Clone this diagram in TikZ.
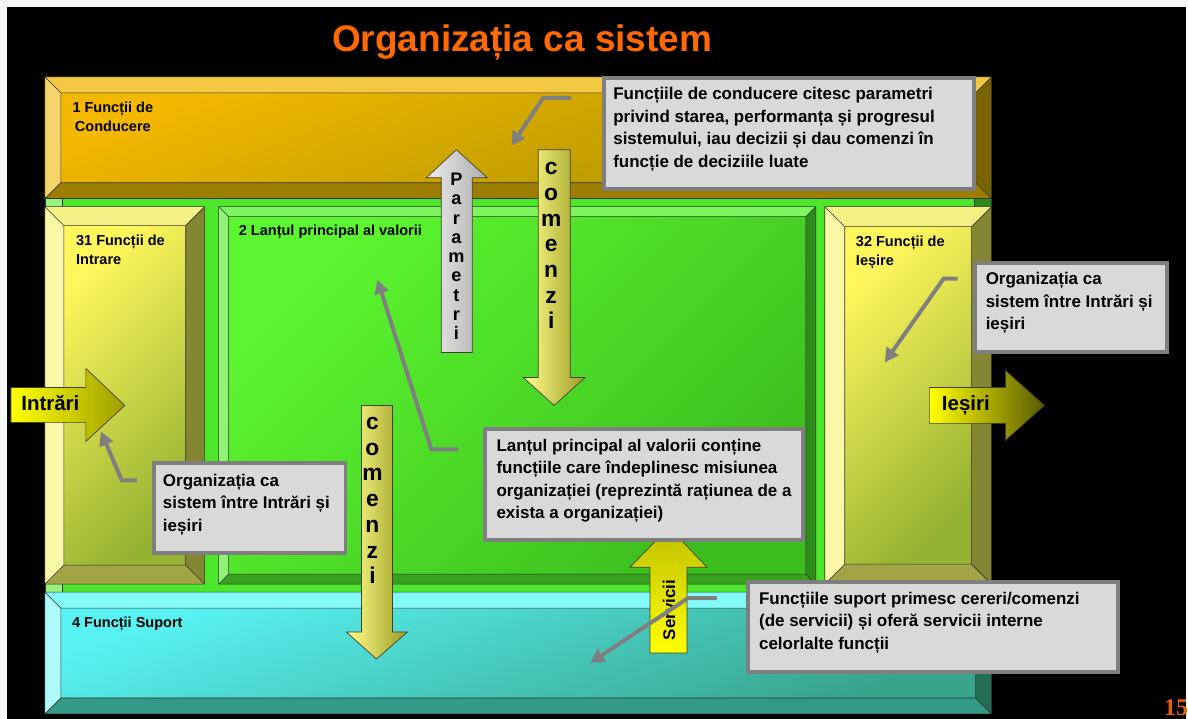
\documentclass[tikz,border=0pt]{standalone}
\usepackage{fontspec}
\setmainfont{Liberation Sans}
\newfontfamily\numfont{Liberation Serif}
\usetikzlibrary{arrows.meta}

\definecolor{titleOrange}{HTML}{FF6A00}
\definecolor{pageOrange}{HTML}{E86000}
\definecolor{calloutFill}{HTML}{D9D9D9}
\definecolor{calloutRim}{HTML}{7F7F7F}
% management band
\definecolor{goldFa}{HTML}{F4B800}
\definecolor{goldFb}{HTML}{A89200}
\definecolor{goldT}{HTML}{F4C842}
\definecolor{goldL}{HTML}{F6D46C}
\definecolor{goldB}{HTML}{9C7E00}
\definecolor{goldR}{HTML}{776400}
% green band and value chain
\definecolor{bandGreen}{HTML}{4CE62A}
\definecolor{bandGreenL}{HTML}{98F27E}
\definecolor{bandGreenR}{HTML}{2C8A1A}
\definecolor{grnFa}{HTML}{5CF630}
\definecolor{grnFb}{HTML}{3CBE1E}
\definecolor{grnT}{HTML}{7EF65E}
\definecolor{grnL}{HTML}{90F276}
\definecolor{grnB}{HTML}{38A21E}
\definecolor{grnR}{HTML}{2E8C1A}
% input / output boxes
\definecolor{yelFa}{HTML}{FFF65C}
\definecolor{yelFb}{HTML}{96B232}
\definecolor{yelT}{HTML}{F4F084}
\definecolor{yelL}{HTML}{FAF7A6}
\definecolor{yelB}{HTML}{A2A446}
\definecolor{yelR}{HTML}{848632}
% support band
\definecolor{aquaFa}{HTML}{58F2F2}
\definecolor{aquaFb}{HTML}{38A48C}
\definecolor{aquaT}{HTML}{82FAFA}
\definecolor{aquaL}{HTML}{AEFAFA}
\definecolor{aquaB}{HTML}{339A88}
\definecolor{aquaR}{HTML}{246E58}
% command arrows
\definecolor{cmdLight}{HTML}{FFFF8C}
\definecolor{cmdDark}{HTML}{9C9C22}

\begin{document}
\begin{tikzpicture}
	[x=0.03cm, y=-0.03cm, >={Triangle[length=12pt,width=12pt]},
	 bevelline/.style={draw=black!80, line width=0.5pt},
	 boxlabel/.style={font=\bfseries\fontsize{12.4}{16.2}\selectfont, inner sep=0pt},
	 callout/.style={draw=calloutRim, fill=calloutFill, line width=3.4pt},
	 callouttext/.style={font=\bfseries\fontsize{14.5}{19.2}\selectfont, inner sep=0pt, align=left, anchor=base west},
	 blockarrow/.style={draw=black!70!olive, line width=0.6pt},
	 pointer/.style={draw=calloutRim, line width=3.4pt, ->}]

	% slide
	\begin{scope}
		\useasboundingbox (0,0) rectangle (1188,720);
		\fill[gray!6] (0,0) rectangle (1188,720);
		\fill[black] (7,7) rectangle (1188,720);
		\node[font=\bfseries\fontsize{31.6}{36}\selectfont, text=titleOrange, inner sep=0pt, anchor=base] (title) at (523,52) {Organizația ca sistem};
	\end{scope}

	% functional areas
	\begin{scope}
		\newcommand{\BevelBox}[7]{
			\shade[top color=#6Fa, bottom color=#6Fb, shading angle=#7] (#1+#5,#2+#5) rectangle (#3-#5,#4-#5);
			\fill[#6T] (#1,#2) -- (#3,#2) -- (#3-#5,#2+#5) -- (#1+#5,#2+#5) -- cycle;
			\fill[#6L] (#1,#2) -- (#1+#5,#2+#5) -- (#1+#5,#4-#5) -- (#1,#4) -- cycle;
			\fill[#6B] (#1,#4) -- (#1+#5,#4-#5) -- (#3-#5,#4-#5) -- (#3,#4) -- cycle;
			\fill[#6R] (#3,#2) -- (#3,#4) -- (#3-#5,#4-#5) -- (#3-#5,#2+#5) -- cycle;
			\draw[bevelline] (#1,#2) rectangle (#3,#4) (#1+#5,#2+#5) rectangle (#3-#5,#4-#5)
				(#1,#2) -- (#1+#5,#2+#5) (#3,#2) -- (#3-#5,#2+#5)
				(#1,#4) -- (#1+#5,#4-#5) (#3,#4) -- (#3-#5,#4-#5);
		}

		% 1 management
		\BevelBox{45}{77}{993}{199}{16}{gold}{20}

		% green band behind the chain
		\fill[bandGreen] (45,199) rectangle (993,593);
		\fill[bandGreenL] (45,199) rectangle (62,593);
		\fill[bandGreenR] (976,199) rectangle (993,593);
		\draw[bevelline] (45,199) rectangle (993,593) (62,199) -- (62,593) (976,199) -- (976,593);

		% 31, 2, 32
		\BevelBox{45}{207}{205}{585}{19}{yel}{45}
		\BevelBox{219}{207}{817}{585}{10}{grn}{45}
		\BevelBox{826}{207}{993}{585}{20}{yel}{45}

		% 4 support
		\BevelBox{45}{593}{993}{715}{16}{aqua}{20}

		% labels (base = last line)
		\node[boxlabel, align=center, anchor=base] (lblLead) at (113,132) {1 Funcții de\\Conducere};
		\node[boxlabel, align=left, anchor=base west] (lblIn) at (76,265) {31 Funcții de\\Intrare};
		\node[boxlabel, anchor=base west] (lblChain) at (239,236) {2 Lanțul principal al valorii};
		\node[boxlabel, align=left, anchor=base west] (lblOut) at (857,266) {32 Funcții de\\Ieșire};
		\node[boxlabel, anchor=base west] (lblSup) at (72,628) {4 Funcții Suport};
	\end{scope}

	% block arrows
	\begin{scope}[blockarrow]
		% parametri (up)
		\draw[left color=gray!15, right color=gray!65] (442,353) -- (442,178) -- (427,178) -- (457,150)
			-- (488,178) -- (473,178) -- (473,353) -- cycle;
		\foreach \l [count=\k from 0] in {P,a,r,a,m,e,t,r,i} {
			\node[font=\bfseries\fontsize{15.5}{15.5}\selectfont, inner sep=0pt, anchor=base] (par\k) at (457,186+19.25*\k) {\l};
		}

		% comenzi (down, upper)
		\draw[left color=cmdLight, right color=cmdDark] (539,150) -- (571,150) -- (571,378) -- (586,378)
			-- (555,406) -- (524,378) -- (539,378) -- cycle;
		\foreach \l [count=\k from 0] in {c,o,m,e,n,z,i} {
			\node[font=\bfseries\fontsize{19.5}{19.5}\selectfont, inner sep=0pt, anchor=base] (cmdA\k) at (552,175+25.7*\k) {\l};
		}

		% comenzi (down, lower)
		\draw[left color=cmdLight, right color=cmdDark] (362,406) -- (393,406) -- (393,633) -- (408,633)
			-- (377,660) -- (347,633) -- (362,633) -- cycle;
		\foreach \l [count=\k from 0] in {c,o,m,e,n,z,i} {
			\node[font=\bfseries\fontsize{19.5}{19.5}\selectfont, inner sep=0pt, anchor=base] (cmdB\k) at (373,430+25.8*\k) {\l};
		}

		% servicii (up)
		\draw[top color=yellow!75!black, bottom color=yellow] (651,654) -- (651,568) -- (631,568) -- (670,528)
			-- (708,568) -- (688,568) -- (688,654) -- cycle;
		\node[font=\bfseries\fontsize{14.5}{14.5}\selectfont, inner sep=0pt, rotate=90] (serv) at (670,611) {Servicii};

		% inputs / outputs
		\draw[left color=yellow, right color=yellow!62!black] (11,388) -- (86,388) -- (86,369) -- (125,406)
			-- (86,442) -- (86,423) -- (11,423) -- cycle;
		\node[font=\bfseries\fontsize{17.5}{17.5}\selectfont, inner sep=0pt, anchor=base west] (inTxt) at (21,411) {Intrări};
		\draw[left color=yellow, right color=yellow!35!black] (931,388) -- (1007,388) -- (1007,371) -- (1046,406)
			-- (1007,441) -- (1007,424) -- (931,424) -- cycle;
		\node[font=\bfseries\fontsize{17.5}{17.5}\selectfont, inner sep=0pt, anchor=base west] (outTxt) at (943,411) {Ieșiri};
	\end{scope}

	% callouts (text base = last line)
	\begin{scope}
		\draw[callout] (605,78) rectangle (975,189);
		\node[callouttext] (noteLead) at (614,167.5) {Funcțiile de conducere citesc parametri\\privind starea, performanța și progresul\\sistemului, iau decizii și dau comenzi în\\funcție de deciziile luate};

		\draw[callout] (154,464) rectangle (346,554);
		\node[callouttext] (noteIn) at (163,532) {Organizația ca\\sistem între Intrări și\\ieșiri};

		\draw[callout] (486,430) rectangle (804,541);
		\node[callouttext] (noteChain) at (497,519.5) {Lanțul principal al valorii conține\\funcțiile care îndeplinesc misiunea\\organizației (reprezintă rațiunea de a\\exista a organizației)};

		\draw[callout] (976,263) rectangle (1169,353);
		\node[callouttext] (noteOut) at (987,330) {Organizația ca\\sistem între Intrări și\\ieșiri};

		\draw[callout] (749,583) rectangle (1120,673);
		\node[callouttext] (noteSup) at (760,650) {Funcțiile suport primesc cereri/comenzi\\(de servicii) și oferă servicii interne\\celorlalte funcții};
	\end{scope}

	% pointers
	\begin{scope}
		\coordinate (ptLeadA) at (572,98);
		\coordinate (ptLeadB) at (544,98);
		\coordinate (ptLeadC) at (512,146);
		\coordinate (ptInA) at (137,481);
		\coordinate (ptInB) at (122,481);
		\coordinate (ptInC) at (101,432);
		\coordinate (ptChainA) at (459,450);
		\coordinate (ptChainB) at (432,450);
		\coordinate (ptChainC) at (378,280);
		\coordinate (ptOutA) at (959,279);
		\coordinate (ptOutB) at (945,279);
		\coordinate (ptOutC) at (886,363);
		\coordinate (ptSupA) at (718,599);
		\coordinate (ptSupB) at (689,599);
		\coordinate (ptSupC) at (591,664);
		\foreach \p in {Lead,In,Chain,Out,Sup} {
			\draw[pointer] (pt\p A) -- (pt\p B) -- (pt\p C);
		}
	\end{scope}

	% page number
	\node[font=\numfont\bfseries\fontsize{20.5}{20.5}\selectfont, text=pageOrange, inner sep=0pt, anchor=base east] (pageNo) at (1190,717) {15};

\end{tikzpicture}
\end{document}
